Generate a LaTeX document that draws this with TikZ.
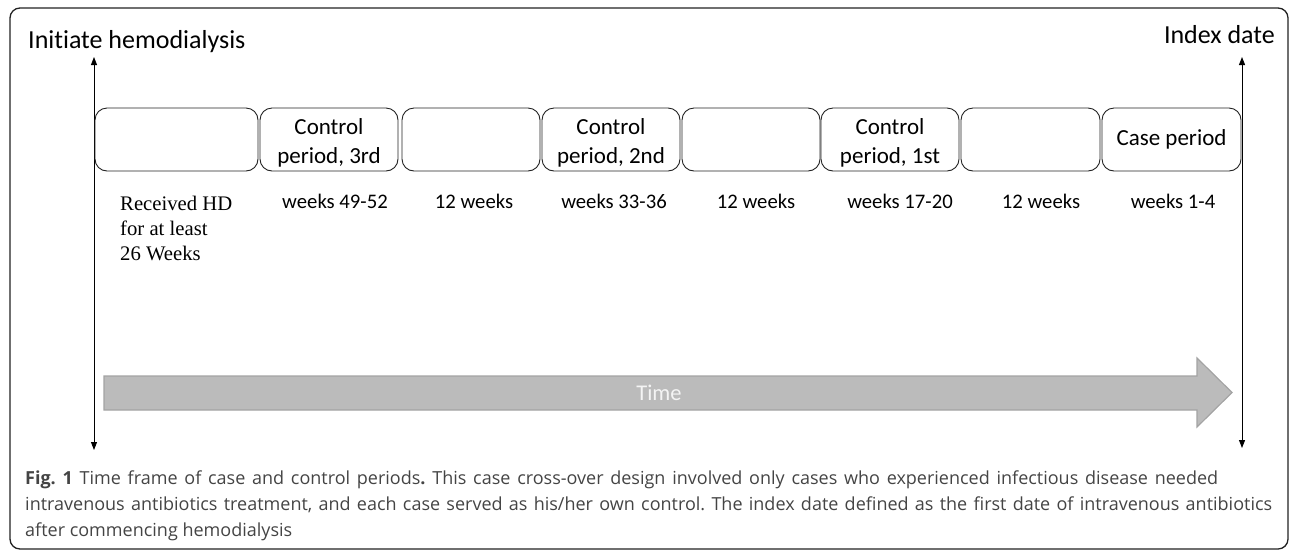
\documentclass[tikz,border=0pt]{standalone}
\usepackage{fontspec}
\usetikzlibrary{arrows.meta}
\newfontfamily\calfont{Carlito}[Ligatures=NoCommon]
\newfontfamily\serfont{Liberation Serif}
\newfontfamily\capfont{Open Sans}
\definecolor{framec}{HTML}{222222}
\definecolor{timefill}{HTML}{BBBBBB}
\definecolor{timeedge}{HTML}{A3A3A3}
\definecolor{captext}{HTML}{444444}
\definecolor{timetext}{HTML}{F4F4F4}
\frenchspacing
\newcommand\capone{\textbf{Fig. 1} Time frame of case and control periods\textbf{.} This case cross-over design involved only cases who experienced infectious disease needed}
\newcommand\captwo{intravenous antibiotics treatment, and each case served as his/her own control. The index date defined as the first date of intravenous antibiotics}
\newcommand\capthree{after commencing hemodialysis}
\newcommand\firstline{\rule{0pt}{23.5pt}}
\begin{document}
\begin{tikzpicture}[x=1pt,y=-1pt,
 period/.style={draw=framec, line width=0.9pt, rounded corners=12pt, minimum height=63pt, inner sep=0pt, align=center, font=\calfont\fontsize{23}{29}\selectfont},
 wklabel/.style={anchor=base, inner sep=0pt, font=\calfont\fontsize{20.7}{25}\selectfont},
 heading/.style={inner sep=0pt, font=\calfont\fontsize{26}{30}\selectfont},
 timeline/.style={draw=black, line width=0.9pt, {Triangle[width=6pt,length=8pt]}-{Triangle[width=6pt,length=8pt]}},
 capline/.style={anchor=base west, inner sep=0pt, text=captext, font=\capfont\fontsize{18}{18}\selectfont\frenchspacing},
]
\useasboundingbox (0,0) rectangle (1292,550);
\draw[framec, line width=1.3pt, rounded corners=10pt] (10,8) rectangle (1288,549);

% headings
\node[heading, anchor=base west] (init) at (28,48) {Initiate hemodialysis};
\node[heading, anchor=base east] (index) at (1275,43) {Index date};

% vertical time lines
\coordinate (lt) at (94,57);
\coordinate (lb) at (94,450);
\coordinate (rt) at (1242,57);
\coordinate (rb) at (1242,448);
\draw[timeline] (lb) -- (lt);
\draw[timeline] (rb) -- (rt);

% period boxes
\node[period, minimum width=163pt] (b1) at (176.5,139.5) {};
\node[period, minimum width=138pt] (b2) at (329,139.5) {\firstline Control\\period, 3rd};
\node[period, minimum width=138pt] (b3) at (471,139.5) {};
\node[period, minimum width=138pt] (b4) at (611,139.5) {\firstline Control\\period, 2nd};
\node[period, minimum width=138pt] (b5) at (751,139.5) {};
\node[period, minimum width=138pt] (b6) at (890,139.5) {\firstline Control\\period, 1st};
\node[period, minimum width=139pt] (b7) at (1030.5,139.5) {};
\node[period, minimum width=139pt] (b8) at (1171.5,139.5) {Case period};

% labels
\node[anchor=north west, inner sep=0pt, align=left, font=\serfont\fontsize{20.7}{25}\selectfont] (l1) at (120,196) {Received HD\\for at least\\26 Weeks};
\node[wklabel] (l2) at (335,208) {weeks 49-52};
\node[wklabel] (l3) at (474,208) {12 weeks};
\node[wklabel] (l4) at (614,208) {weeks 33-36};
\node[wklabel] (l5) at (756,208) {12 weeks};
\node[wklabel] (l6) at (900,208) {weeks 17-20};
\node[wklabel] (l7) at (1041,208) {12 weeks};
\node[wklabel] (l8) at (1173,208) {weeks 1-4};

% time arrow
\draw[fill=timefill, draw=timeedge, line width=1.2pt, line join=miter]
  (104,376) -- (1197,376) -- (1197,358) -- (1232,392.5) -- (1197,427) -- (1197,410) -- (104,410) -- cycle;
\node[inner sep=0pt, text=timetext, font=\calfont\fontsize{22.5}{27}\selectfont] (time) at (659,393) {Time};

% caption
\node[capline] (c1) at (25,484) {\makebox[1193pt][s]{\capone}};
\node[capline] (c2) at (25,510) {\makebox[1247pt][s]{\captwo}};
\node[capline] (c3) at (25,536) {\capthree};
\end{tikzpicture}
\end{document}
